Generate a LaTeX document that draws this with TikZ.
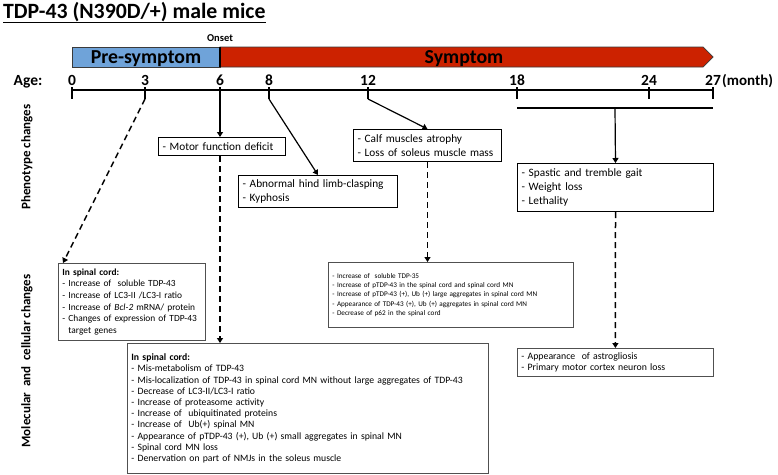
\documentclass[tikz,border=0pt]{standalone}
\usepackage{fontspec}
\setmainfont{Carlito}
\usepackage{tikz}
\usetikzlibrary{calc,arrows.meta}
\definecolor{preblue}{HTML}{6FA3D9}
\definecolor{symred}{HTML}{CC2200}
\definecolor{barline}{HTML}{3A3A3A}
\definecolor{boxgray}{HTML}{505050}
\tikzset{
  bar/.style={draw=barline, line width=0.7pt},
  axis/.style={line width=2pt},
  tickmark/.style={line width=2.6pt},
  pbox/.style={draw, line width=1pt, anchor=north west, align=left, inner xsep=4pt, inner ysep=0pt, font=\fontsize{11.3}{14.2}\selectfont},
  mbox/.style={draw=boxgray, line width=0.8pt, anchor=north west, align=left, inner xsep=4pt, inner ysep=0pt},
  link/.style={line width=1.2pt, -{Triangle[length=5pt,width=6pt]}},
  dlink/.style={link, line width=1.5pt, dash pattern=on 6pt off 4pt},
  num/.style={anchor=base, font=\fontsize{15.5}{15.5}\selectfont\bfseries},
  side/.style={rotate=90, font=\fontsize{13}{13}\selectfont\bfseries},
}

\begin{document}
\begin{tikzpicture}[x=1pt,y=-1pt]
  \useasboundingbox (0,0) rectangle (778,474);
  % title
  \node[anchor=base west, inner sep=0pt, font=\fontsize{21.8}{21.8}\selectfont\bfseries] (title) at (3,18) {TDP-43 (N390D/+) male mice};
  \draw[line width=1.4pt] (title.base west) ++(0,4.5) -- ($(title.base east)+(0,4.5)$);
  % stage bar
  \draw[bar, fill=preblue] (72,47) rectangle (220,67);
  \draw[bar, fill=symred] (220,47) -- (703,47) -- (713,57) -- (703,67) -- (220,67) -- cycle;
  \draw[line width=2pt] (220,47) -- (220,67);
  \node[anchor=base, font=\fontsize{10.5}{10.5}\selectfont\bfseries] (onset) at (220,41) {Onset};
  \node[anchor=base, font=\fontsize{19.8}{19.8}\selectfont\bfseries] (pre) at (146,63) {Pre-symptom};
  \node[anchor=base, font=\fontsize{19.8}{19.8}\selectfont\bfseries] (sym) at (464,63) {Symptom};
  % age axis
  \node[num] (age) at (28,85) {Age:};
  \draw[axis] (72,90) -- (713,90);
  \foreach \m/\x in {0/72,3/145,6/220,8/269,12/368,18/517,24/649,27/713} {
    \node[num] (n\m) at (\x,85) {\m};
    \coordinate (t\m) at (\x,99);
    \draw[tickmark] (\x,87) -- (t\m);
  }
  \node[anchor=base west, inner sep=0pt, font=\fontsize{15}{15}\selectfont\bfseries] (month) at (722,85) {(month)};
  \coordinate (b18) at (517,108);
  \coordinate (b27) at (713,108);
  \draw[line width=2.2pt] (b18) -- (b27);
  % row labels
  \node[side] (phen) at (27,157) {Phenotype changes};
  \node[side] (mol) at (27,361) {Molecular\ \ and\ \ cellular changes};
  % phenotype boxes
  \node[pbox, text width=119pt, minimum height=18pt] (motor) at (158,137) {- Motor function deficit};
  \node[pbox, text width=151pt, minimum height=32pt] (clasp) at (238,175) {- Abnormal hind limb-clasping\\- Kyphosis};
  \node[pbox, text width=140pt, minimum height=32pt] (calf) at (353,129) {- Calf muscles atrophy\\- Loss of soleus muscle mass};
  \node[pbox, text width=188pt, minimum height=48pt] (gait) at (517,163) {- Spastic and tremble gait\\- Weight loss\\- Lethality};
  % molecular boxes
  \node[mbox, text width=139pt, minimum height=77pt, font=\fontsize{9.4}{11.7}\selectfont] (sc3) at (58,263)
    {\textbf{In spinal cord:}\\- Increase of\ \ soluble TDP-43\\- Increase of LC3-II /LC3-I ratio\\- Increase of \textit{Bcl-2} mRNA/ protein\\- Changes of expression of TDP-43\\\phantom{- }target genes};
  \node[mbox, text width=353pt, minimum height=130pt, font=\fontsize{9.7}{11.2}\selectfont] (sc6) at (127,343)
    {\textbf{In spinal cord:}\\- Mis-metabolism of TDP-43\\- Mis-localization of TDP-43 in spinal cord MN without large aggregates of TDP-43\\- Decrease of LC3-II/LC3-I ratio\\- Increase of proteasome activity\\- Increase of\ \ ubiquitinated proteins\\- Increase of\ \ Ub(+) spinal MN\\- Appearance of pTDP-43 (+), Ub (+) small aggregates in spinal MN\\- Spinal cord MN loss\\- Denervation on part of NMJs in the soleus muscle};
  \node[mbox, text width=237pt, minimum height=65pt, font=\fontsize{7.2}{9.2}\selectfont] (tdp35) at (328,262)
    {- Increase of\ \ soluble TDP-35\\- Increase of pTDP-43 in the spinal cord and spinal cord MN\\- Increase of pTDP-43 (+), Ub (+) large aggregates in spinal cord MN\\- Appearance of TDP-43 (+), Ub (+) aggregates in spinal cord MN\\- Decrease of p62 in the spinal cord};
  \node[mbox, text width=188pt, minimum height=28pt, font=\fontsize{9.8}{11.7}\selectfont] (astro) at (517,348)
    {- Appearance\ \ of astrogliosis\\- Primary motor cortex neuron loss};
  % connectors
  \draw[dlink] (t3) -- ([xshift=5pt]sc3.north west);
  \draw[link] (t6) -- (motor.north -| t6);
  \draw[dlink] (motor.south -| t6) -- (sc6.north -| t6);
  \draw[link] (t8) -- (clasp.north);
  \draw[link] (t12) -- (calf.north);
  \draw[dlink] (calf.south) -- (tdp35.north -| calf.south);
  \draw[link] ($(b18)!0.5!(b27)$) -- (gait.north);
  \draw[dlink] (gait.south) -- (astro.north);
\end{tikzpicture}
\end{document}
